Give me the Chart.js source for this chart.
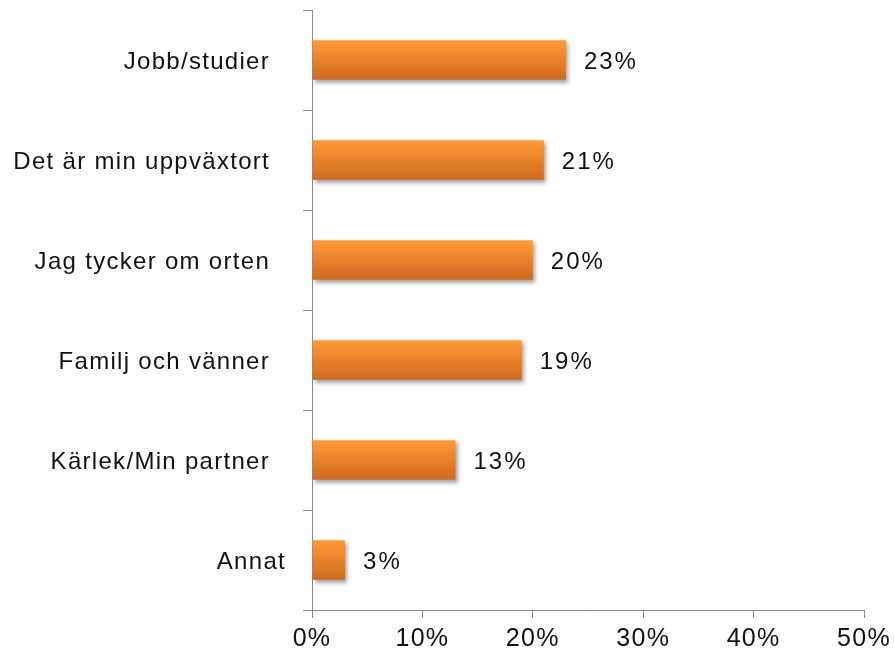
<!DOCTYPE html>
<html><head><meta charset="utf-8">
<script src="https://cdn.jsdelivr.net/npm/chart.js@4"></script>
<style>html,body{margin:0;padding:0;background:#fff}#wrap{width:894px;height:658px}</style>
</head><body><div id="wrap"><canvas id="c" width="894" height="658"></canvas></div>
<script>
const categories = ["Jobb/studier  ", "Det är min uppväxtort  ", "Jag tycker om orten  ", "Familj och vänner  ", "Kärlek/Min partner  ", "Annat"];
const values = [23, 21, 20, 19, 13, 3];
const tickValues = [0, 10, 20, 30, 40, 50];

const FONT = "'Liberation Sans', Arial, Helvetica, sans-serif";
const BAR_PCT = 0.395;

const spacingPlugin = {
  id: 'spacing',
  beforeDraw(chart) { chart.ctx.letterSpacing = '1.3px'; }
};
const shadowPlugin = {
  id: 'shadow',
  beforeDatasetDraw(chart) {
    const c = chart.ctx; c.save();
    c.shadowColor = 'rgba(0,0,0,0.35)'; c.shadowOffsetX = 2; c.shadowOffsetY = 3; c.shadowBlur = 4;
  },
  afterDatasetDraw(chart) { chart.ctx.restore(); }
};
const labelPlugin = {
  id: 'valueLabels',
  afterDatasetsDraw(chart) {
    const c = chart.ctx; const meta = chart.getDatasetMeta(0);
    c.save(); c.font = "24px " + FONT; c.fillStyle = '#111'; c.textAlign = 'left'; c.textBaseline = 'middle';
    c.letterSpacing = '2px';
    meta.data.forEach((el, i) => { c.fillText(values[i] + '%', el.x + 18, el.y + 2); });
    c.restore();
  }
};

new Chart(document.getElementById('c'), {
  type: 'bar',
  data: {
    labels: categories,
    datasets: [{
      data: values,
      barPercentage: BAR_PCT,
      categoryPercentage: 1,
      borderWidth: 0,
      backgroundColor: (ctx) => {
        const chart = ctx.chart;
        if (!chart.chartArea) return '#F58A2A';
        const y = chart.scales.y.getPixelForValue(ctx.dataIndex);
        const h = chart.scales.y.height / categories.length * BAR_PCT;
        const g = chart.ctx.createLinearGradient(0, y - h / 2, 0, y + h / 2);
        g.addColorStop(0, '#FF9A35');
        g.addColorStop(1, '#CF6A20');
        return g;
      }
    }]
  },
  options: {
    indexAxis: 'y',
    responsive: false,
    animation: false,
    devicePixelRatio: 1,
    layout: { padding: { left: 0, top: 10, right: 30, bottom: 0 } },
    plugins: { legend: { display: false }, tooltip: { enabled: false } },
    scales: {
      x: {
        min: 0, max: 50,
        afterBuildTicks: (s) => { s.ticks = tickValues.map(v => ({ value: v })); },
        afterFit: (s) => { s.height = 48; s.paddingLeft = 0; s.paddingRight = 0; },
        grid: { drawOnChartArea: false, drawTicks: true, tickLength: 8, color: '#8a8a8a', lineWidth: 1 },
        border: { display: true, color: '#8a8a8a', width: 1 },
        ticks: { callback: (v) => v + '%', color: '#111', font: { family: FONT, size: 25 }, padding: 6, maxRotation: 0 }
      },
      y: {
        offset: true,
        afterFit: (s) => { s.width = 312; s.paddingTop = 0; s.paddingBottom = 0; },
        grid: { drawOnChartArea: false, drawTicks: true, tickLength: 9, offset: true, color: '#8a8a8a', lineWidth: 1 },
        border: { display: true, color: '#8a8a8a', width: 1 },
        ticks: { color: '#111', font: { family: FONT, size: 24 }, padding: 17, labelOffset: 2 }
      }
    }
  },
  plugins: [spacingPlugin, shadowPlugin, labelPlugin]
});
</script></body></html>
